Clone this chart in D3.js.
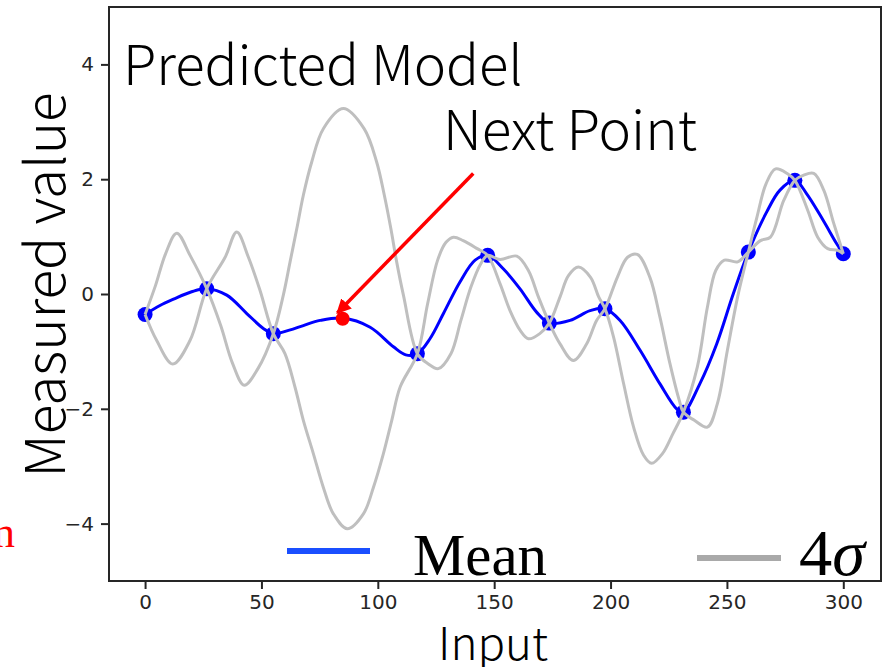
<!DOCTYPE html>
<html lang="en">
<head>
  <meta charset="UTF-8">
  <title>Predicted Model</title>
  <script src="https://cdnjs.cloudflare.com/ajax/libs/d3/7.8.5/d3.min.js"></script>
  <style>
    body { margin: 0; background: #fff; }
    svg { display: block; }
  </style>
</head>
<body>
<script>
  // observed samples (blue dots)
  const obsX = [0, 26.5, 55.1, 117.0, 147.2, 173.7, 197.6, 231.3, 259.2, 279.2, 300];
  const obsY = [-0.356, 0.092, -0.692, -1.04, 0.673, -0.507, -0.256, -2.058, 0.73, 1.98, 0.702];

  // next point to sample (red dot) and where the arrow starts
  const nextPoint = [84.9, -0.43];
  const arrowFrom = [141, 2.1];
  const arrowTo = [82.6, -0.33];

  // predicted mean
  const meanX = [0, 6.4, 12.2, 20, 26.5, 35.1, 43.7, 50.8, 55.1, 62, 68, 75.2, 84.9, 96.7, 106.7, 112, 117,
    122.4, 128.2, 135.3, 141.8, 147.2, 153.9, 161.1, 168.3, 173.7, 182.6, 191.2, 197.6, 204.1, 212.7,
    221.3, 228.4, 231.3, 238.4, 245.6, 252.7, 259.2, 267.1, 272.8, 279.2, 284.2, 291.4, 297.1, 300];
  const meanY = [-0.356, -0.2, -0.09, 0.04, 0.092, -0.02, -0.34, -0.6, -0.692, -0.63, -0.55, -0.46, -0.42,
    -0.58, -0.92, -1.06, -1.04, -0.78, -0.34, 0.21, 0.59, 0.673, 0.44, 0.09, -0.32, -0.507, -0.46, -0.29,
    -0.256, -0.46, -0.98, -1.57, -2.0, -2.058, -1.56, -0.87, 0.0, 0.73, 1.43, 1.81, 1.98, 1.75, 1.28, 0.88, 0.702];

  // first grey 4 sigma line (goes up from x = 0)
  const bandAX = [0, 4.5, 8.8, 13.6, 19.5, 26.5, 32.5, 37.5, 42.6, 48.5, 55.1, 59.4, 62.3, 65.2, 68, 71.6,
    76.6, 85.2, 94.1, 99.5, 102.8, 105.6, 108.1, 111, 117, 121.4, 126, 131.4, 135.7, 140, 144.3, 147.2,
    152.5, 159.7, 164.7, 169, 173.7, 178.3, 184, 189.7, 194, 197.6, 203, 207.3, 211.5, 216.9, 221.2,
    225.5, 229.5, 231.3, 236, 241.6, 245.9, 250.2, 254.6, 259.2, 262.9, 266.8, 270.9, 275.9, 279.2,
    284.7, 289, 293.3, 297.6, 300];
  const bandAY = [-0.356, 0.15, 0.7, 1.06, 0.66, 0.092, -0.55, -1.2, -1.59, -1.3, -0.692, -0.02, 0.56, 1.14,
    1.72, 2.3, 2.88, 3.23, 2.88, 2.3, 1.72, 1.14, 0.56, -0.02, -1.04, -1.21, -1.3, -1.04, -0.46, 0.12, 0.53,
    0.673, 0.6, 0.66, 0.41, -0.05, -0.507, -0.87, -1.16, -0.87, -0.46, -0.256, 0.3, 0.64, 0.69, 0.29, -0.4,
    -1.21, -1.85, -2.058, -2.2, -2.32, -1.91, -0.98, -0.05, 0.73, 1.34, 1.92, 2.18, 2.1, 1.98,
    1.46, 0.99, 0.79, 0.76, 0.702];

  // second grey 4 sigma line (goes down from x = 0)
  const bandBX = [0, 5, 11.9, 19.3, 26.5, 34.4, 39.4, 44.4, 49.4, 55.1, 60.1, 64.4, 68, 72.3, 76.6, 80.9,
    86.9, 93.8, 98.1, 102.4, 106, 109.6, 117, 121.4, 125.7, 129.3, 132.5, 136.7, 142.7, 147.2, 152.5,
    156.8, 161.1, 164.7, 169.6, 173.7, 178.3, 181.9, 186.2, 191.4, 194.9, 197.6, 201.3, 205.6, 209.9,
    214.2, 217.6, 222.3, 226.7, 231.3, 237.3, 241.6, 245.2, 248.9, 254.6, 259.2, 264.4, 268.7, 274.4,
    279.2, 283, 287.3, 291.6, 295.9, 300];
  const bandBY = [-0.356, -0.81, -1.22, -0.81, 0.092, 0.64, 1.08, 0.64, 0.06, -0.692, -1.04, -1.62, -2.2,
    -2.78, -3.37, -3.83, -4.09, -3.83, -3.37, -2.78, -2.2, -1.62, -1.04, -0.17, 0.59, 0.9, 0.99, 0.93, 0.79,
    0.673, 0.18, -0.29, -0.63, -0.78, -0.69, -0.507, -0.05, 0.32, 0.47, 0.29, -0.05, -0.256, -0.75, -1.56,
    -2.32, -2.81, -2.95, -2.78, -2.44, -2.058, -1.27, -0.23, 0.41, 0.59, 0.56, 0.73, 0.93, 0.99, 1.63,
    1.98, 2.07, 2.1, 1.81, 1.23, 0.702];

  const xTicks = [0, 50, 100, 150, 200, 250, 300];
  const yTicks = [-4, -2, 0, 2, 4];

  const width = 884, height = 667;
  const m = { left: 109, right: 881, top: 7, bottom: 581 };

  const svg = d3.select('body').append('svg')
    .attr('width', width)
    .attr('height', height);

  const x = d3.scaleLinear().domain([-15.5, 316.2]).range([m.left, m.right]);
  const y = d3.scaleLinear().domain([-5, 5]).range([m.bottom, m.top]);

  const zip = (xs, ys) => xs.map((v, i) => [v, ys[i]]);
  const line = d3.line()
    .x(d => x(d[0]))
    .y(d => y(d[1]))
    .curve(d3.curveCatmullRom.alpha(0.5));

  // axes
  const xAxis = svg.append('g')
    .attr('transform', `translate(0,${m.bottom})`)
    .call(d3.axisBottom(x).tickValues(xTicks).tickSize(8).tickPadding(6));
  const yAxis = svg.append('g')
    .attr('transform', `translate(${m.left},0)`)
    .call(d3.axisLeft(y).tickValues(yTicks).tickSize(8).tickPadding(7));
  [xAxis, yAxis].forEach(g => {
    g.select('.domain').remove();
    g.selectAll('line').attr('stroke', '#262626').attr('stroke-width', 2);
    g.selectAll('text')
      .attr('font-family', 'DejaVu Sans')
      .attr('font-size', 20)
      .attr('fill', '#262626');
  });

  // observed points
  svg.append('g').selectAll('circle')
    .data(zip(obsX, obsY))
    .join('circle')
    .attr('cx', d => x(d[0]))
    .attr('cy', d => y(d[1]))
    .attr('r', 7.5)
    .attr('fill', '#0000ff');

  // mean
  svg.append('path')
    .attr('d', line(zip(meanX, meanY)))
    .attr('fill', 'none')
    .attr('stroke', '#0000ff')
    .attr('stroke-width', 3);

  // 4 sigma lines
  [zip(bandAX, bandAY), zip(bandBX, bandBY)].forEach(pts => {
    svg.append('path')
      .attr('d', line(pts))
      .attr('fill', 'none')
      .attr('stroke', '#bfbfbf')
      .attr('stroke-width', 3);
  });

  // frame
  svg.append('rect')
    .attr('x', m.left).attr('y', m.top)
    .attr('width', m.right - m.left).attr('height', m.bottom - m.top)
    .attr('fill', 'none')
    .attr('stroke', '#262626')
    .attr('stroke-width', 2);

  // arrow to the next point
  svg.append('defs').append('marker')
    .attr('id', 'head')
    .attr('viewBox', '0 0 10 10')
    .attr('refX', 9).attr('refY', 5)
    .attr('markerWidth', 4.2).attr('markerHeight', 4.2)
    .attr('markerUnits', 'strokeWidth')
    .attr('orient', 'auto')
    .append('path')
    .attr('d', 'M0,0 L10,5 L0,10 Z')
    .attr('fill', '#ff0000');

  svg.append('line')
    .attr('x1', x(arrowFrom[0])).attr('y1', y(arrowFrom[1]))
    .attr('x2', x(arrowTo[0])).attr('y2', y(arrowTo[1]))
    .attr('stroke', '#ff0000')
    .attr('stroke-width', 3.5)
    .attr('marker-end', 'url(#head)');

  svg.append('circle')
    .attr('cx', x(nextPoint[0]))
    .attr('cy', y(nextPoint[1]))
    .attr('r', 7)
    .attr('fill', '#ff0000');

  // shrink / grow a text so it spans w pixels
  function fit(sel, w) {
    const len = sel.node().getComputedTextLength();
    sel.attr('font-size', parseFloat(sel.attr('font-size')) * w / len);
    return sel;
  }

  const gothic = '"Noto Sans CJK JP", "Noto Sans", sans-serif';
  const serif = '"Liberation Serif", "DejaVu Serif", serif';

  fit(svg.append('text')
    .attr('x', 123).attr('y', 85)
    .attr('font-family', gothic).attr('font-weight', 300).attr('font-size', 50)
    .text('Predicted Model'), 400);

  fit(svg.append('text')
    .attr('x', 443).attr('y', 150)
    .attr('font-family', gothic).attr('font-weight', 300).attr('font-size', 50)
    .text('Next Point'), 254);

  fit(svg.append('text')
    .attr('transform', 'translate(65,285) rotate(-90)')
    .attr('text-anchor', 'middle')
    .attr('font-family', gothic).attr('font-weight', 300).attr('font-size', 50)
    .text('Measured value'), 385);

  fit(svg.append('text')
    .attr('x', 493).attr('y', 660)
    .attr('text-anchor', 'middle')
    .attr('font-family', gothic).attr('font-weight', 300).attr('font-size', 45)
    .text('Input'), 110);

  svg.append('text')
    .attr('x', 15).attr('y', 547)
    .attr('text-anchor', 'end')
    .attr('font-family', serif).attr('font-size', 44)
    .attr('fill', '#ff0000')
    .text('n');

  // legend
  svg.append('line')
    .attr('x1', 287).attr('x2', 370).attr('y1', 551).attr('y2', 551)
    .attr('stroke', '#1a4fff').attr('stroke-width', 6);
  fit(svg.append('text')
    .attr('x', 413).attr('y', 575)
    .attr('font-family', serif).attr('font-size', 58)
    .text('Mean'), 134);

  svg.append('line')
    .attr('x1', 697).attr('x2', 781).attr('y1', 558).attr('y2', 558)
    .attr('stroke', '#a9a9a9').attr('stroke-width', 6);
  const sig = svg.append('text')
    .attr('x', 799).attr('y', 575)
    .attr('font-family', serif).attr('font-size', 58);
  sig.append('tspan').text('4');
  sig.append('tspan').attr('font-style', 'italic').text('σ');
  fit(sig, 66);
</script>
</body>
</html>
